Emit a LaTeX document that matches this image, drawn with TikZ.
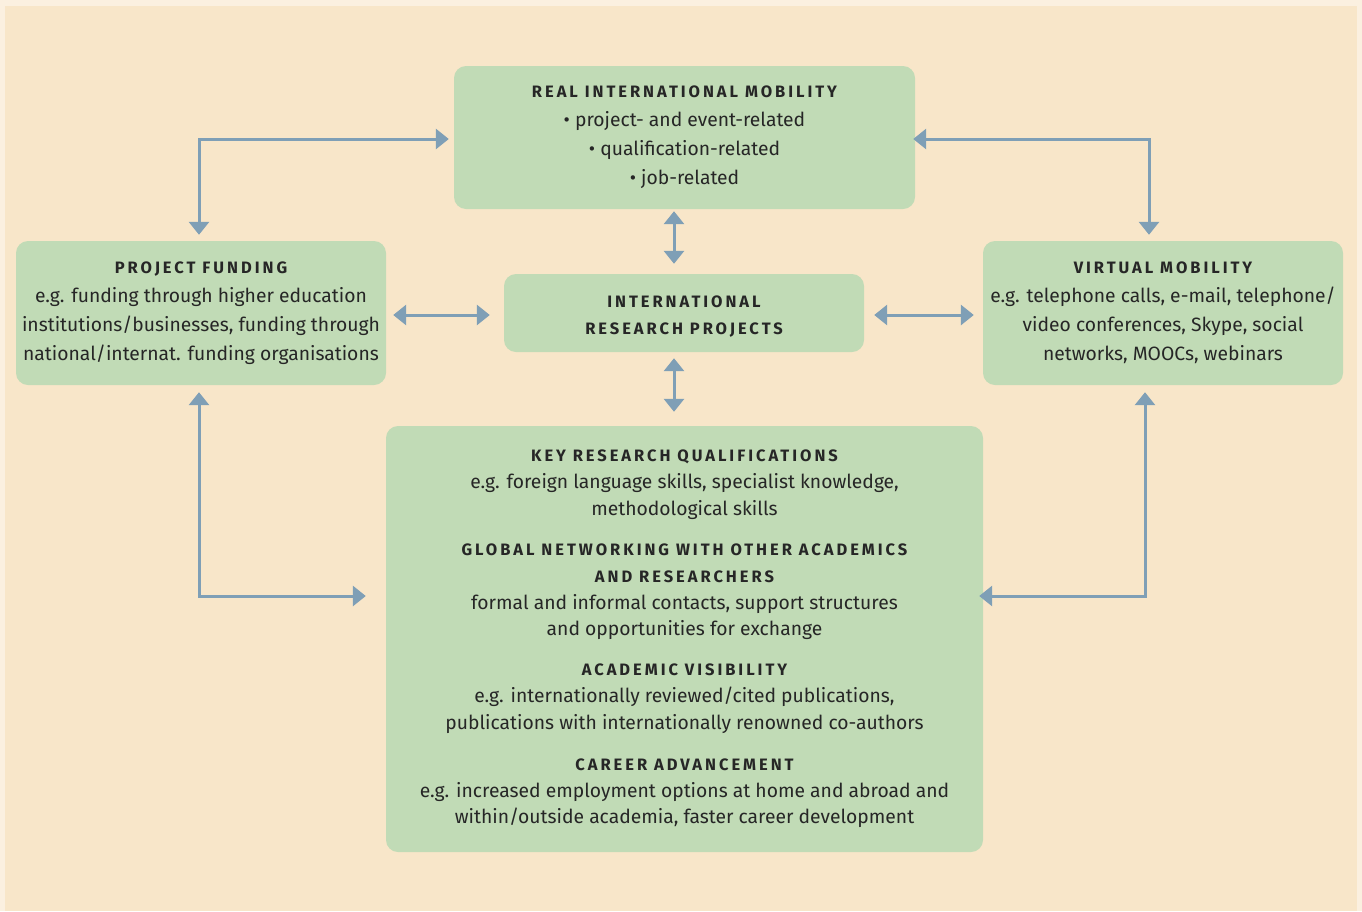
\documentclass[tikz,border=0pt]{standalone}
\usepackage{fontspec}
\setmainfont{Fira Sans}
\usetikzlibrary{arrows.meta}
\definecolor{bgout}{HTML}{FBF0E0}
\definecolor{bgin}{HTML}{F8E6C9}
\definecolor{boxg}{HTML}{C1DBB6}
\definecolor{arrc}{HTML}{7F9FB6}
\definecolor{txt}{HTML}{262626}
\newcommand{\hd}[1]{{\fontsize{16.5}{18}\selectfont\bfseries\addfontfeatures{LetterSpace=18}#1}}
\begin{document}
\begin{tikzpicture}[x=1pt,y=-1pt,
  box/.style={fill=boxg, rounded corners=12pt, align=center, text=txt, inner sep=0pt,
    font=\fontsize{19.3}{29}\selectfont},
  dbl/.style={arrc, line width=3pt,
    {Triangle[width=20pt,length=13pt]}-{Triangle[width=20pt,length=13pt]}}]
\fill[bgout] (0,0) rectangle (1362,911);
\fill[bgin] (5,6) rectangle (1357,911);
\useasboundingbox (0,0) rectangle (1362,911);

\node[box, minimum width=461pt, minimum height=143pt] (top) at (684.5,137.5)
  {\hd{REAL INTERNATIONAL MOBILITY}\\ \textbullet\ project- and event-related\\
   \textbullet\ qualification-related\\ \textbullet\ job-related\rule[-5pt]{0pt}{0pt}};
\node[box, minimum width=370pt, minimum height=144pt] (pf) at (201,313)
  {\hd{PROJECT FUNDING}\\ e.g. funding through higher education\\
   institutions/businesses, funding through\\ national/internat. funding organisations};
\node[box, minimum width=360pt, minimum height=78pt, font=\fontsize{19.3}{27}\selectfont] (irp) at (684,313)
  {\rule{0pt}{18pt}\hd{INTERNATIONAL}\\ \hd{RESEARCH PROJECTS}};
\node[box, minimum width=360pt, minimum height=144pt] (vm) at (1163,313)
  {\hd{VIRTUAL MOBILITY}\\ e.g. telephone calls, e-mail, telephone/\\
   video conferences, Skype, social\\ networks, MOOCs, webinars};
\node[box, minimum width=597pt, minimum height=426pt, font=\fontsize{19.3}{26.8}\selectfont] (bot) at (684.5,639)
  {\hd{KEY RESEARCH QUALIFICATIONS}\\
   e.g. foreign language skills, specialist knowledge,\\
   methodological skills\\[13.3pt]
   \hd{GLOBAL NETWORKING WITH OTHER ACADEMICS}\\
   \hd{AND RESEARCHERS}\\
   formal and informal contacts, support structures\\
   and opportunities for exchange\\[13.3pt]
   \hd{ACADEMIC VISIBILITY}\\
   e.g. internationally reviewed/cited publications,\\
   publications with internationally renowned co-authors\\[14pt]
   \hd{CAREER ADVANCEMENT}\\
   e.g. increased employment options at home and abroad and\\
   within/outside academia, faster career development};

\draw[dbl, shorten <=6pt, shorten >=5pt] ([xshift=-2pt]pf.north) |- ([yshift=-1.5pt]top.west);
\draw[dbl, shorten <=-2pt, shorten >=6pt] ([yshift=-1.5pt]top.east) -| ([xshift=-14pt]vm.north);
\draw[dbl, shorten <=7pt, shorten >=14pt] ([yshift=-2pt]pf.east) -- ([yshift=-2pt]irp.west);
\draw[dbl, shorten <=10pt, shorten >=9pt] ([yshift=-2pt]irp.east) -- ([yshift=-2pt]vm.west);
\draw[dbl, shorten <=2pt, shorten >=10pt] ([xshift=-10.5pt]top.south) -- ([xshift=-10pt]irp.north);
\draw[dbl, shorten <=6pt, shorten >=14pt] ([xshift=-10pt]irp.south) -- ([xshift=-10.5pt]bot.north);
\draw[dbl, shorten <=7pt, shorten >=20pt] ([xshift=-2pt]pf.south) |- ([yshift=43pt]bot.west);
\draw[dbl, shorten <=7pt, shorten >=-4pt] ([xshift=-18pt]vm.south) |- ([yshift=43pt]bot.east);
\end{tikzpicture}
\end{document}
